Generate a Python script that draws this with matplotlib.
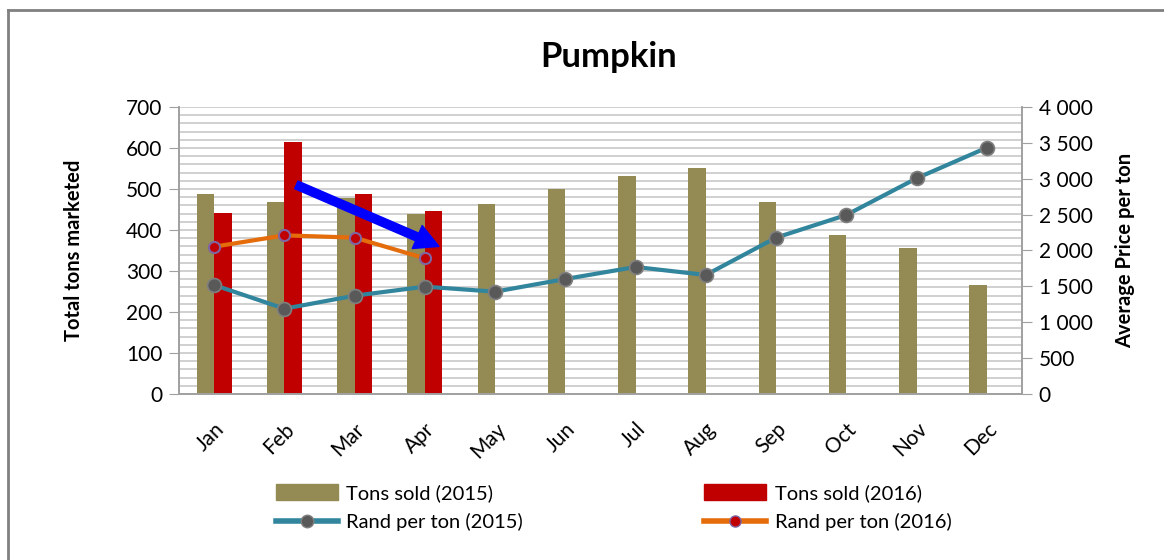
import numpy as np
import matplotlib.pyplot as plt
from matplotlib.ticker import FuncFormatter, MultipleLocator
from matplotlib.lines import Line2D

plt.rcParams['font.family'] = ['Lato', 'DejaVu Sans']

months = ['Jan', 'Feb', 'Mar', 'Apr', 'May', 'Jun',
          'Jul', 'Aug', 'Sep', 'Oct', 'Nov', 'Dec']
tons_2015 = [488, 469, 479, 440, 463, 500, 532, 550, 468, 387, 357, 265]
tons_2016 = [441, 614, 488, 447]
rand_2015 = [1519, 1189, 1370, 1496, 1426, 1603, 1770, 1659, 2179, 2495, 3006, 3433]
rand_2016 = [2053, 2211, 2179, 1891]

# trend arrow (category index, tons)
arrow_start = (1.17, 510)
arrow_end = (3.2, 360)

olive = '#948A54'
red = '#C00000'
teal = '#31859C'
orange = '#E46C0A'

fig = plt.figure(figsize=(11.64, 5.6), dpi=100)
ax = fig.add_axes([0.1538, 0.2964, 0.7242, 0.5126])
ax2 = ax.twinx()

x = np.arange(len(months))
w = 0.25
ax.bar(x - w / 2, tons_2015, w, color=olive, zorder=2)
ax.bar(x[:len(tons_2016)] + w / 2, tons_2016, w, color=red, zorder=2)

ax.set_xlim(-0.5, 11.5)
ax.set_ylim(0, 700)
ax.yaxis.set_major_locator(MultipleLocator(100))
ax.yaxis.set_minor_locator(MultipleLocator(20))
ax.grid(True, which='both', axis='y', color='#C4C4C4', linewidth=1.1)
ax.set_axisbelow(True)
ax.set_xticks(x)
ax.set_xticklabels(months, rotation=45, ha='right', rotation_mode='anchor', fontsize=15)
ax.tick_params(axis='x', length=0, pad=18)
ax.tick_params(axis='y', which='major', length=7, color='#A0A0A0', labelsize=15, pad=5)
ax.tick_params(axis='y', which='minor', length=0)
ax.set_ylabel('Total tons marketed', fontsize=14.5, fontweight='bold')
ax.yaxis.set_label_coords(-0.113, 0.5)

ax2.plot(x, rand_2015, color=teal, linewidth=3, marker='o', markersize=10,
         markerfacecolor='#595959', markeredgecolor='#7F7F7F', markeredgewidth=1.2, zorder=3)
ax2.plot(x[:len(rand_2016)], rand_2016, color=orange, linewidth=3, marker='o', markersize=8,
         markerfacecolor=red, markeredgecolor='#8064A2', markeredgewidth=1.5, zorder=3)
ax2.set_ylim(0, 4000)
ax2.yaxis.set_major_locator(MultipleLocator(500))
ax2.yaxis.set_major_formatter(FuncFormatter(lambda v, p: f'{int(v):,}'.replace(',', ' ')))
ax2.tick_params(axis='y', length=7, color='#A0A0A0', labelsize=15, pad=5)
ax2.set_ylabel('Average Price per ton', fontsize=14.5, fontweight='bold')
ax2.yaxis.set_label_coords(1.111, 0.5)

for a in (ax, ax2):
    a.spines['top'].set_visible(False)
    for s in ('left', 'right', 'bottom'):
        a.spines[s].set_color('#A0A0A0')
        a.spines[s].set_linewidth(1.2)

ax2.annotate('', xy=arrow_end, xytext=arrow_start, xycoords=ax.transData,
             textcoords=ax.transData,
             arrowprops=dict(color='#0000FF', width=6, headwidth=18, headlength=17),
             zorder=5)

fig.text(0.523, 0.898, 'Pumpkin', ha='center', va='center', fontsize=25, fontweight='bold')

handles = [
    plt.Rectangle((0, 0), 1, 1, color=olive),
    Line2D([], [], color=teal, linewidth=4, marker='o', markersize=9,
           markerfacecolor='#595959', markeredgecolor='#7F7F7F'),
    plt.Rectangle((0, 0), 1, 1, color=red),
    Line2D([], [], color=orange, linewidth=4, marker='o', markersize=8,
           markerfacecolor=red, markeredgecolor='#8064A2'),
]
labels = ['Tons sold (2015)', 'Rand per ton (2015)', 'Tons sold (2016)', 'Rand per ton (2016)']
fig.legend(handles, labels, ncol=2, loc='center', bbox_to_anchor=(0.527, 0.094),
           frameon=False, fontsize=14.5, handlelength=3.1, handleheight=0.9,
           columnspacing=9.0, labelspacing=0.55, handletextpad=0.4)

# outer chart frame
fig.add_artist(Line2D([0.007, 1.0], [0.982, 0.982], color='#808080', linewidth=2))
fig.add_artist(Line2D([0.007, 0.007], [0.0, 0.982], color='#808080', linewidth=2))

fig.savefig('out.png', dpi=100)
